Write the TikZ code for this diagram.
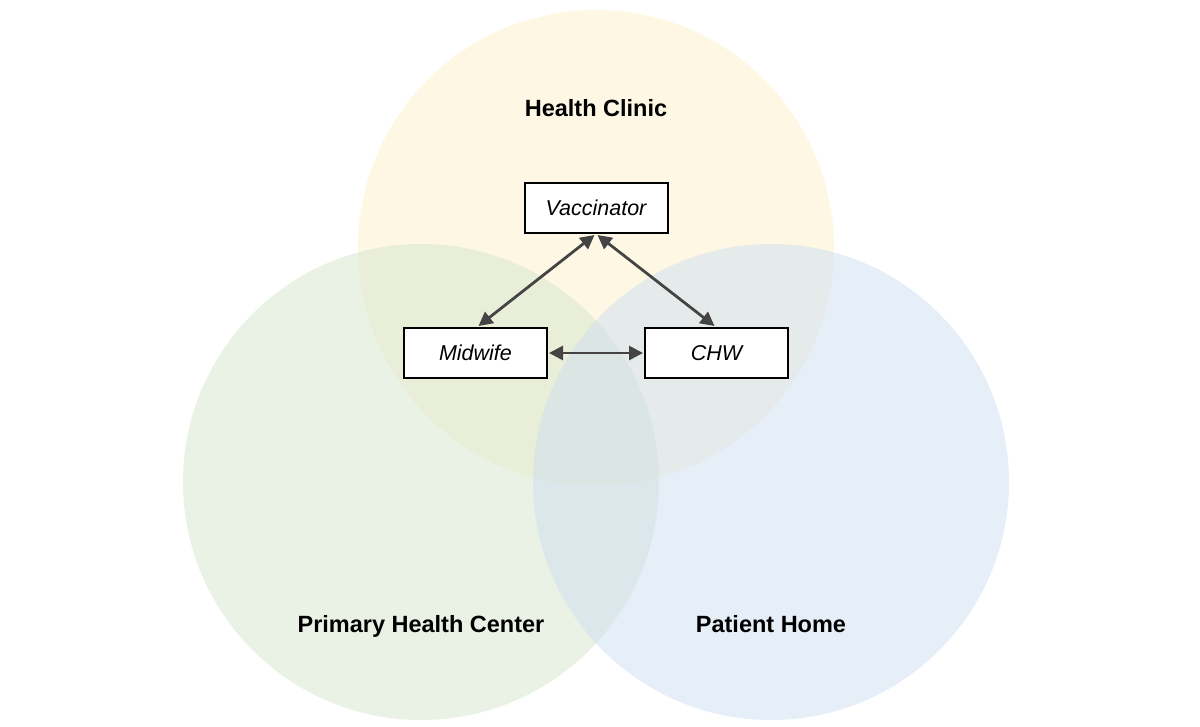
\documentclass[tikz,border=0pt]{standalone}
\usepackage{fontspec}
\setmainfont{Liberation Sans}
\usetikzlibrary{arrows.meta,calc}
\definecolor{cyel}{HTML}{FDEFC9}
\definecolor{cgrn}{HTML}{D5E5CD}
\definecolor{cblu}{HTML}{CDDDF1}
\definecolor{cline}{HTML}{444444}
\tikzset{
  zone/.style={circle, minimum size=476pt, inner sep=0pt, draw=none, fill opacity=0.5},
  zonelabel/.style={anchor=base, font=\fontsize{23.5}{27}\selectfont\bfseries, text=black},
  role/.style={draw=black, line width=2pt, fill=white, minimum width=143pt, minimum height=50pt, inner sep=0pt, font=\fontsize{21.5}{24}\selectfont\itshape},
  link/.style={draw=cline, line width=2.8pt, {Triangle[length=14pt,width=14pt]}-{Triangle[length=14pt,width=14pt]}}
}
\begin{document}
\begin{tikzpicture}[x=1pt,y=-1pt]
\useasboundingbox (0,0) rectangle (1200,726);
\node[zone, fill=cyel] (clinic) at (596,248) {};
\node[zone, fill=cgrn] (phc) at (421,482) {};
\node[zone, fill=cblu] (home) at (771,482) {};
\node[zonelabel] (lclinic) at (596,116) {Health Clinic};
\node[zonelabel] (lphc) at (421,632) {Primary Health Center};
\node[zonelabel] (lhome) at (771,632) {Patient Home};
\node[role] (vac) at (596,207.5) {Vaccinator};
\node[role] (mid) at (475.5,353) {Midwife};
\node[role] (chw) at (716.5,353) {CHW};
\draw[link] ($(vac.south)+(-1.5,1.5)$) -- ($(mid.north)+(3,-1)$);
\draw[link] ($(vac.south)+(1.5,1.5)$) -- ($(chw.north)+(-2,-1)$);
\draw[link] ($(mid.east)+(1,0)$) -- ($(chw.west)+(-1,0)$);
\end{tikzpicture}
\end{document}
